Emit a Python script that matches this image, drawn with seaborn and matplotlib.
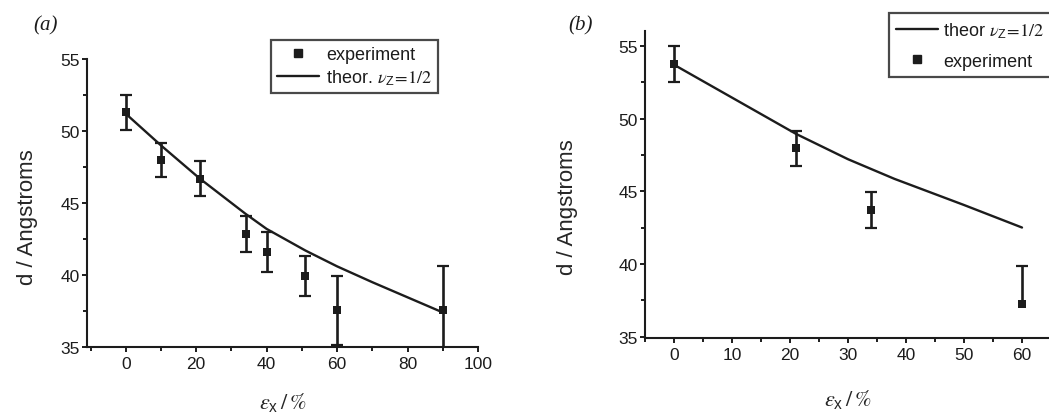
"""
Two-panel figure: layer spacing d vs strain eps_x, experiment with error bars
and theoretical curve (nu_z = 1/2).
"""

import pandas as pd
import seaborn as sns
import matplotlib.pyplot as plt
from matplotlib.lines import Line2D
from matplotlib.ticker import MultipleLocator

# =============================
# DATA
# =============================

# panel (a)
a_exp_x = [0, 10, 21, 34, 40, 51, 60, 90]
a_exp_y = [51.3, 48.0, 46.7, 42.85, 41.6, 39.95, 37.55, 37.55]
a_exp_err = [1.2, 1.2, 1.2, 1.25, 1.4, 1.4, 2.4, 3.05]
a_th_x = [0, 10, 21, 34, 40, 51, 60, 70, 80, 90]
a_th_y = [51.2, 49.0, 46.7, 44.25, 43.2, 41.7, 40.6, 39.5, 38.45, 37.4]

# panel (b)
b_exp_x = [0, 21, 34, 60]
b_exp_y = [53.75, 47.95, 43.7, 37.25]
b_err_lo = [1.25, 1.2, 1.25, 0.0]
b_err_hi = [1.25, 1.2, 1.25, 2.6]
b_th_x = [0, 21, 30, 38, 50, 60]
b_th_y = [53.7, 48.95, 47.2, 45.85, 44.05, 42.5]

INK = "#1c1c1c"

# =============================
# STYLE
# =============================

sns.set_theme(style="ticks")
plt.rcParams["font.family"] = ["Liberation Sans", "DejaVu Sans"]
plt.rcParams["mathtext.fontset"] = "stix"
plt.rcParams["axes.edgecolor"] = INK
plt.rcParams["text.color"] = INK
plt.rcParams["xtick.color"] = INK
plt.rcParams["ytick.color"] = INK

W, H = 1049, 414
fig = plt.figure(figsize=(W / 100, H / 100), dpi=100)


def px_axes(x0, x1, y_top, y_bot):
    return fig.add_axes([x0 / W, 1 - y_bot / H, (x1 - x0) / W, (y_bot - y_top) / H])


def style_axes(ax, xmaj, xmin):
    sns.despine(ax=ax)
    for s in ("left", "bottom"):
        ax.spines[s].set_linewidth(1.5)
    ax.xaxis.set_major_locator(MultipleLocator(xmaj))
    ax.xaxis.set_minor_locator(MultipleLocator(xmin))
    ax.yaxis.set_major_locator(MultipleLocator(5))
    ax.yaxis.set_minor_locator(MultipleLocator(2.5))
    ax.tick_params(which="major", direction="out", length=3.5, width=1.4,
                   labelsize=12.5)
    ax.tick_params(which="minor", direction="out", length=3, width=1.4)
    ax.tick_params(axis="x", pad=3)
    ax.tick_params(axis="y", pad=1.5)
    ax.set_xlabel(r"$\varepsilon_{\mathregular{x}}\,/\,\%$", fontsize=16)
    ax.set_ylabel("d / Angstroms", fontsize=16)


nu_part = r"$\nu_{\mathregular{Z}}\!\mathrm{=}\!\mathrm{1/2}$"
theor_label_a = "theor. " + nu_part
theor_label_b = "theor " + nu_part

# =============================
# PANEL (a)
# =============================

ax1 = px_axes(87, 478, 60, 348)
df_a_exp = pd.DataFrame({"x": a_exp_x, "y": a_exp_y})
df_a_th = pd.DataFrame({"x": a_th_x, "y": a_th_y})

sns.lineplot(data=df_a_th, x="x", y="y", ax=ax1, color=INK, linewidth=1.7,
             zorder=2)
ax1.errorbar(a_exp_x, a_exp_y, yerr=a_exp_err, fmt="none", ecolor=INK,
             elinewidth=1.9, capsize=4.5, capthick=1.6, zorder=3)
sns.scatterplot(data=df_a_exp, x="x", y="y", ax=ax1, marker="s", s=30,
                color=INK, edgecolor=INK, linewidth=0, zorder=4)
ax1.set_xlim(-11, 100)
ax1.set_ylim(35, 55)
style_axes(ax1, 20, 10)
ax1.xaxis.set_label_coords(0.5, -0.15)
ax1.yaxis.set_label_coords(-0.125, 0.453)

h_exp = Line2D([], [], color=INK, marker="s", markersize=5.5, linestyle="none")
h_th = Line2D([], [], color=INK, linewidth=1.7)
leg1 = fig.legend([h_exp, h_th], ["experiment", theor_label_a],
                  loc="upper left", bbox_to_anchor=(271 / W, 1 - 40.5 / H),
                  fontsize=13, frameon=True, fancybox=False, edgecolor=INK,
                  handlelength=2.3, handletextpad=0.4, borderpad=0.35,
                  labelspacing=0.25, borderaxespad=0)
leg1.get_frame().set_linewidth(1.6)

# =============================
# PANEL (b)
# =============================

ax2 = px_axes(645, 1051, 32.3, 339)
df_b_exp = pd.DataFrame({"x": b_exp_x, "y": b_exp_y})
df_b_th = pd.DataFrame({"x": b_th_x, "y": b_th_y})

sns.lineplot(data=df_b_th, x="x", y="y", ax=ax2, color=INK, linewidth=1.7,
             zorder=2)
ax2.errorbar(b_exp_x[:3], b_exp_y[:3], yerr=[b_err_lo[:3], b_err_hi[:3]],
             fmt="none", ecolor=INK, elinewidth=1.9, capsize=4.5,
             capthick=1.6, zorder=3)
# last point only has an upper bar
_, caps, _ = ax2.errorbar(b_exp_x[3:], b_exp_y[3:],
                          yerr=[b_err_lo[3:], b_err_hi[3:]], fmt="none",
                          ecolor=INK, elinewidth=1.9, capsize=4.5,
                          capthick=1.6, zorder=3)
caps[0].set_visible(False)
sns.scatterplot(data=df_b_exp, x="x", y="y", ax=ax2, marker="s", s=30,
                color=INK, edgecolor=INK, linewidth=0, zorder=4)
ax2.set_xlim(-5, 65)
ax2.set_ylim(34.9, 56.0)
style_axes(ax2, 10, 5)
ax2.xaxis.set_label_coords(0.5, -0.16)
ax2.yaxis.set_label_coords(-0.165, 0.43)

leg2 = fig.legend([h_th, h_exp], [theor_label_b, "experiment"],
                  loc="upper left", bbox_to_anchor=(889 / W, 1 - 14.3 / H),
                  fontsize=13, frameon=True, fancybox=False, edgecolor=INK,
                  handlelength=2.3, handletextpad=0.3, borderpad=0.4,
                  labelspacing=0.7, borderaxespad=0)
leg2.get_frame().set_linewidth(1.6)

# panel tags
fig.text(33 / W, 1 - 26 / H, "(a)", family="Liberation Serif", style="italic",
         fontsize=15, va="center", ha="left")
fig.text(568 / W, 1 - 26 / H, "(b)", family="Liberation Serif", style="italic",
         fontsize=15, va="center", ha="left")

fig.savefig("out.png", dpi=100)
